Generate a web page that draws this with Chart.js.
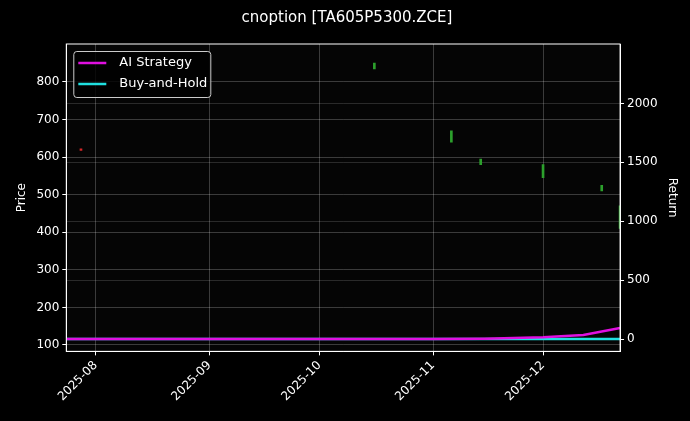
<!DOCTYPE html><html><head><script src="https://cdn.jsdelivr.net/npm/chart.js@4"></script>
<style>body{margin:0;background:#000}#w{width:690px;height:421px}</style></head><body><div id="w"><canvas id="c"></canvas></div>
<script>
const candleDates=["2025-07-28","2025-10-16","2025-11-06","2025-11-14","2025-12-01","2025-12-17","2025-12-22"];
const candleLow=[618,835,640,580,545,510,410];
const candleHigh=[622,850,670,595,580,525,470];
const candleColor=["#d62728","#2ca02c","#2ca02c","#2ca02c","#2ca02c","#2ca02c","#2ca02c"];
const lineDates=["2025-07-24","2025-08-15","2025-09-15","2025-10-15","2025-11-01","2025-11-15","2025-12-01","2025-12-12","2025-12-22"];
const aiReturn=[0,0,0,0,0,3,15,35,95];
const bhReturn=[0,0,0,0,0,0,0,0,0];
const monthTicks=["2025-08-01","2025-09-01","2025-10-01","2025-11-01","2025-12-01"];
const D=s=>Date.parse(s+"T00:00:00Z");
const fmt=v=>{const d=new Date(v);return d.getUTCFullYear()+"-"+String(d.getUTCMonth()+1).padStart(2,"0");};
const legendPlugin={id:"lg",afterDraw(ch){const c=ch.ctx,a=ch.chartArea,x=a.left+7,y=a.top+7;c.save();c.fillStyle="rgba(0,0,0,0.8)";c.strokeStyle="#ccc";c.lineWidth=1;c.beginPath();c.roundRect(x+0.5,y+0.5,137,46,3);c.fill();c.stroke();
[["AI Strategy","#e010e0"],["Buy-and-Hold","#20e0e0"]].forEach((it,i)=>{const yy=y+12+i*21;c.strokeStyle=it[1];c.lineWidth=2.5;c.beginPath();c.moveTo(x+5,yy);c.lineTo(x+33,yy);c.stroke();c.fillStyle="#fff";c.font="13px 'DejaVu Sans'";c.textBaseline="middle";c.fillText(it[0],x+46,yy);});c.restore();}};
const bgPlugin={id:"bg",beforeDraw(ch){const c=ch.ctx,a=ch.chartArea;c.save();c.fillStyle="#000";c.fillRect(0,0,ch.width,ch.height);c.fillStyle="#050505";c.fillRect(a.left,a.top,a.right-a.left,a.bottom-a.top);c.restore();},afterDraw(ch){const c=ch.ctx,a=ch.chartArea;c.save();c.strokeStyle="#fff";c.lineWidth=1;c.strokeRect(a.left,a.top,a.right-a.left,a.bottom-a.top);c.restore();}};
const grid={color:"rgba(255,255,255,0.22)",tickColor:"#fff",tickLength:4,drawTicks:true,offset:false};
new Chart(document.getElementById("c"),{
data:{datasets:[
{type:"bar",yAxisID:"y",data:candleDates.map((d,i)=>({x:D(d),y:[candleLow[i],candleHigh[i]]})),backgroundColor:candleColor,barThickness:2,grouped:false,order:3},
{type:"line",yAxisID:"y1",data:lineDates.map((d,i)=>({x:D(d),y:aiReturn[i]})),borderColor:"#e010e0",borderWidth:2.5,pointRadius:0,tension:0,order:1},
{type:"line",yAxisID:"y1",data:lineDates.map((d,i)=>({x:D(d),y:bhReturn[i]})),borderColor:"#20e0e0",borderWidth:2.5,pointRadius:0,order:2}]},
options:{responsive:true,maintainAspectRatio:false,animation:false,layout:{padding:{left:11,right:7,top:9,bottom:14}},
plugins:{legend:{display:false},tooltip:{enabled:false},title:{display:true,text:"cnoption [TA605P5300.ZCE]",color:"#fff",font:{size:15,family:"DejaVu Sans",weight:"normal"},padding:{top:0,bottom:17}}},
scales:{
x:{type:"linear",offset:false,min:D("2025-07-24"),max:D("2025-12-22"),afterBuildTicks:s=>{s.ticks=monthTicks.map(m=>({value:D(m)}));},
ticks:{color:"#fff",maxRotation:45,minRotation:45,font:{size:12,family:"DejaVu Sans"},callback:v=>fmt(v)},grid:{...grid,borderDash:[4,3]},border:{color:"#fff"}},
y:{position:"left",min:83,max:901,afterBuildTicks:s=>{s.ticks=[100,200,300,400,500,600,700,800].map(v=>({value:v}));},ticks:{color:"#fff",font:{size:12,family:"DejaVu Sans"}},grid:{...grid,borderDash:[4,3]},border:{color:"#fff"},title:{display:true,text:"Price",color:"#fff",font:{size:12,family:"DejaVu Sans"}}},
y1:{position:"right",min:-104,max:2504,afterBuildTicks:s=>{s.ticks=[0,500,1000,1500,2000].map(v=>({value:v}));},ticks:{color:"#fff",font:{size:12,family:"DejaVu Sans"},callback:v=>String(v)},grid:{...grid,borderDash:[1,3],color:"rgba(255,255,255,0.15)"},border:{color:"#fff"},title:{display:true,text:"Return",color:"#fff",font:{size:12,family:"DejaVu Sans"}}}}},
plugins:[bgPlugin,legendPlugin]});
</script></body></html>
